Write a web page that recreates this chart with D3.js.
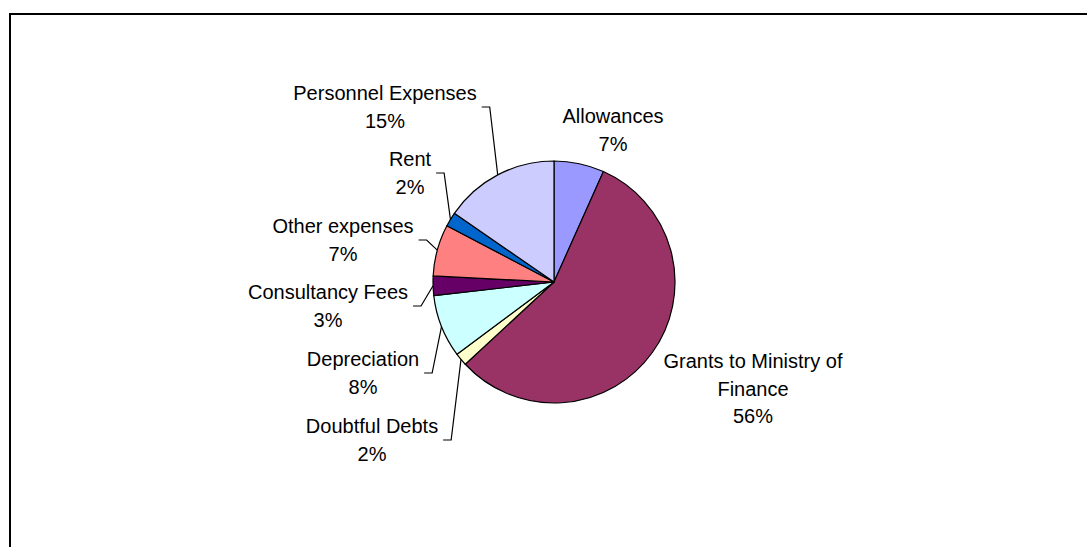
<!doctype html>
<html lang="en">
<head>
<meta charset="utf-8" />
<style>
  body { margin: 0; background: #fff; }
  svg text { font-family: "Liberation Sans", Arial, sans-serif; font-size: 20px; fill: #000; text-anchor: middle; }
</style>
</head>
<body>
<div id="chart"></div>
<script src="https://d3js.org/d3.v7.min.js"></script>
<script>
  // data, clockwise from 12 o'clock
  var categories = ["Allowances", "Grants to Ministry of Finance", "Doubtful Debts", "Depreciation",
                    "Consultancy Fees", "Other expenses", "Rent", "Personnel Expenses"];
  var values = [6.7, 56.4, 1.7, 8.4, 2.6, 6.9, 1.9, 15.4];
  var colors = ["#9999FF", "#993366", "#FFFFCC", "#CCFFFF", "#660066", "#FF8080", "#0066CC", "#CCCCFF"];
  // label lines (text wrapping as in the original)
  var labelLines = [["Allowances"], ["Grants to Ministry of", "Finance"], ["Doubtful Debts"], ["Depreciation"],
                    ["Consultancy Fees"], ["Other expenses"], ["Rent"], ["Personnel Expenses"]];

  var width = 1087, height = 547;
  var cx = 554, cy = 282, radius = 121;

  // where each label sits (centre x, first baseline) and whether it has a leader line
  var labelLayout = [
    {x: 613, y: 123, leader: false},
    {x: 753, y: 368, leader: false},
    {x: 372, y: 433, leader: true},
    {x: 363, y: 366, leader: true},
    {x: 328, y: 299, leader: true},
    {x: 343, y: 233, leader: true},
    {x: 410, y: 166, leader: true},
    {x: 385, y: 100, leader: true}
  ];
  var lineH = 27.5;

  var svg = d3.select("#chart").append("svg")
      .attr("width", width)
      .attr("height", height);

  // chart frame (runs off the right and bottom edges)
  svg.append("rect")
      .attr("x", 10).attr("y", 14)
      .attr("width", 1200).attr("height", 700)
      .attr("fill", "#fff")
      .attr("stroke", "#000")
      .attr("stroke-width", 2);

  var total = d3.sum(values);
  var data = categories.map(function(c, i) { return {name: c, value: values[i], i: i}; });

  var pie = d3.pie().sort(null).value(function(d) { return d.value; });
  var arc = d3.arc().innerRadius(0).outerRadius(radius);
  var arcs = pie(data);

  var g = svg.append("g").attr("transform", "translate(" + cx + "," + cy + ")");

  g.selectAll("path")
    .data(arcs)
    .enter().append("path")
    .attr("d", arc)
    .attr("fill", function(d) { return colors[d.data.i]; })
    .attr("stroke", "#000")
    .attr("stroke-width", 1.2)
    .attr("stroke-linejoin", "round");

  var labels = svg.append("g");
  var pct = function(v) { return Math.round(v / total * 100) + "%"; };

  arcs.forEach(function(a) {
    var i = a.data.i, L = labelLayout[i];
    var lines = labelLines[i].concat([pct(a.data.value)]);
    var t = labels.append("text");
    lines.forEach(function(s, k) {
      t.append("tspan").attr("x", L.x).attr("y", L.y + k * lineH).text(s);
    });

    if (L.leader) {
      var w = t.select("tspan").node().getComputedTextLength();
      var mid = (a.startAngle + a.endAngle) / 2;
      var px = cx + radius * Math.sin(mid), py = cy - radius * Math.cos(mid);
      var x0 = L.x + w / 2 + 5, y0 = L.y + 7;
      labels.append("path")
        .attr("d", "M" + x0 + "," + y0 + "H" + (x0 + 8) + "L" + px + "," + py)
        .attr("fill", "none")
        .attr("stroke", "#000")
        .attr("stroke-width", 1.2);
    }
  });
</script>
</body>
</html>
